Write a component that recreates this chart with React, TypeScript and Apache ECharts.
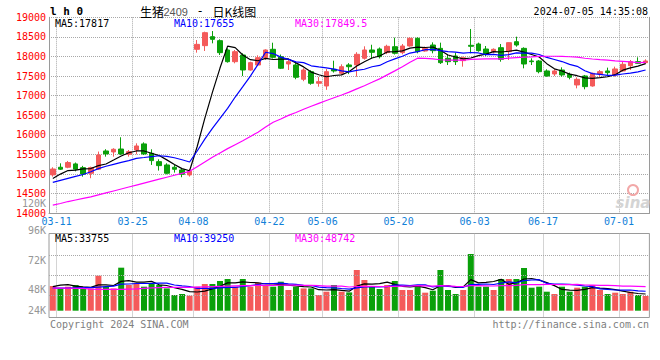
import React, { useEffect, useRef } from 'react';
import * as echarts from 'echarts';

// ---- categories (trading days) ----
const dates = [
  '03-08', '03-11', '03-12', '03-13', '03-14', '03-15', '03-18', '03-19', '03-20', '03-21',
  '03-22', '03-25', '03-26', '03-27', '03-28', '03-29', '04-01', '04-02', '04-03', '04-08',
  '04-09', '04-10', '04-11', '04-12', '04-15', '04-16', '04-17', '04-18', '04-19', '04-22',
  '04-23', '04-24', '04-25', '04-26', '04-29', '04-30', '05-06', '05-07', '05-08', '05-09',
  '05-10', '05-13', '05-14', '05-15', '05-16', '05-17', '05-20', '05-21', '05-22', '05-23',
  '05-24', '05-27', '05-28', '05-29', '05-30', '05-31', '06-03', '06-04', '06-05', '06-06',
  '06-07', '06-11', '06-12', '06-13', '06-14', '06-17', '06-18', '06-19', '06-20', '06-21',
  '06-24', '06-25', '06-26', '06-27', '06-28', '07-01', '07-02', '07-03', '07-04',
];
const xLabelDates = ['03-11', '03-25', '04-08', '04-22', '05-06', '05-20', '06-03', '06-17', '07-01'];

// ---- price series ----
const openP = [
  14980, 15175, 15175, 15260, 15165, 15020, 15125, 15590, 15565, 15640,
  15505, 15615, 15770, 15530, 15318, 15233, 15174, 15106, 14978, 18183,
  18277, 18506, 18404, 18166, 17868, 18038, 17656, 17783, 17970, 18184,
  17995, 17809, 17784, 17419, 17613, 17317, 17248, 17674, 17572, 17784,
  17784, 17955, 18166, 18192, 18100, 18250, 18098, 18268, 18464, 18140,
  18293, 18208, 17954, 18013, 17894, 18285, 18319, 18191, 18123, 18225,
  18123, 18378, 18208, 17886, 17886, 17631, 17554, 17656, 17546, 17274,
  17503, 17248, 17554, 17631, 17529, 17631, 17766, 17869, 17843,
];
const closeP = [
  15130, 15125, 15295, 15125, 15000, 15165, 15488, 15514, 15633, 15514,
  15573, 15718, 15514, 15344, 15216, 15021, 15123, 14995, 15072, 18310,
  18608, 18438, 18098, 17868, 18123, 17656, 17843, 17970, 18166, 17980,
  17700, 17868, 17470, 17656, 17317, 17358, 17613, 17631, 17740, 17740,
  18056, 18166, 18107, 17995, 18260, 18082, 18268, 18464, 18123, 18208,
  18149, 17843, 17868, 17868, 17970, 18260, 18149, 18056, 18183, 17928,
  18353, 18293, 17809, 17868, 17613, 17503, 17631, 17529, 17469, 17418,
  17231, 17571, 17614, 17588, 17682, 17801, 17869, 17826, 17886,
];
const lowP = [
  14935, 15105, 15150, 15070, 14935, 14895, 15105, 15445, 15445, 15488,
  15445, 15505, 15488, 15233, 15090, 14995, 15038, 14920, 14936, 18098,
  18141, 18336, 18038, 17843, 17826, 17503, 17639, 17758, 17911, 17950,
  17680, 17656, 17420, 17370, 17280, 17230, 17150, 17590, 17530, 17550,
  17485, 17920, 17950, 17950, 18060, 18050, 18056, 18251, 18081, 18123,
  18081, 17809, 17783, 17783, 17741, 18081, 18123, 18013, 18081, 17868,
  17911, 18251, 17698, 17783, 17571, 17486, 17503, 17486, 17418, 17188,
  17163, 17231, 17469, 17529, 17486, 17614, 17656, 17809, 17809,
];
const highP = [
  15175, 15275, 15335, 15295, 15210, 15190, 15575, 15635, 15660, 15940,
  15615, 15785, 15810, 15633, 15378, 15276, 15233, 15150, 15131, 18420,
  18633, 18650, 18438, 18208, 18166, 18081, 17868, 18030, 18183, 18352,
  18050, 17930, 17870, 17700, 17650, 17480, 17680, 17893, 17800, 17830,
  18110, 18260, 18300, 18230, 18300, 18480, 18319, 18489, 18489, 18251,
  18361, 18353, 18038, 18098, 17996, 18702, 18353, 18268, 18208, 18319,
  18360, 18506, 18234, 17954, 17911, 17673, 17673, 17724, 17588, 17469,
  17529, 17588, 17656, 17716, 17741, 17868, 17911, 17979, 17928,
];
const ma5 = [
  14890, 15000, 15090, 15100, 15135, 15142, 15215, 15258, 15360, 15463,
  15544, 15590, 15590, 15533, 15473, 15363, 15244, 15140, 15085, 15704,
  16422, 17085, 17705, 18264, 18227, 18037, 17918, 17892, 17952, 17923,
  17932, 17937, 17837, 17735, 17602, 17534, 17483, 17515, 17532, 17616,
  17756, 17867, 17962, 18013, 18117, 18122, 18142, 18214, 18239, 18229,
  18242, 18157, 18038, 17987, 17940, 17962, 18023, 18061, 18124, 18115,
  18134, 18163, 18113, 18050, 17987, 17817, 17685, 17629, 17549, 17510,
  17456, 17444, 17461, 17484, 17537, 17651, 17711, 17753, 17817,
];
const ma10 = [
  14790, 14840, 14890, 14940, 14990, 15060, 15140, 15200, 15250, 15299,
  15343, 15403, 15424, 15446, 15468, 15454, 15417, 15365, 15309, 15589,
  15892, 16164, 16423, 16675, 16966, 17229, 17501, 17799, 18108, 18075,
  17984, 17927, 17864, 17843, 17763, 17733, 17710, 17676, 17633, 17609,
  17645, 17675, 17738, 17772, 17867, 17939, 18005, 18088, 18126, 18173,
  18182, 18150, 18126, 18113, 18084, 18102, 18090, 18049, 18055, 18027,
  18048, 18093, 18087, 18087, 18051, 17976, 17924, 17871, 17800, 17749,
  17636, 17564, 17545, 17517, 17524, 17553, 17577, 17607, 17655,
];
const ma30 = [
  14210, 14250, 14300, 14340, 14380, 14420, 14470, 14520, 14570, 14620,
  14670, 14720, 14770, 14820, 14870, 14920, 14970, 15020, 15070, 15190,
  15310, 15430, 15540, 15650, 15750, 15850, 15960, 16070, 16200, 16321,
  16406, 16498, 16570, 16655, 16732, 16805, 16876, 16947, 17017, 17091,
  17174, 17255, 17342, 17430, 17532, 17634, 17738, 17854, 17956, 17952,
  17937, 17917, 17910, 17910, 17905, 17925, 17935, 17938, 17938, 17937,
  17958, 17972, 17984, 17991, 18001, 18006, 18006, 18003, 17994, 17983,
  17955, 17936, 17919, 17906, 17886, 17877, 17864, 17842, 17850,
];

// ---- volume series ----
const volume = [
  49900, 45000, 48500, 51900, 45000, 45000, 70700, 48500, 45000, 86900,
  51900, 55100, 48500, 53900, 51900, 45000, 31700, 33700, 30300, 48500,
  53900, 53900, 60000, 64000, 48500, 64000, 48500, 56600, 51900, 48500,
  58600, 41800, 48500, 45000, 45000, 31700, 38400, 51900, 38400, 37000,
  82200, 62000, 48500, 43800, 51900, 60000, 41800, 41800, 51900, 36400,
  40400, 82200, 41800, 33700, 41800, 114500, 48500, 48500, 41800, 64000,
  64000, 64000, 86300, 46500, 48500, 38400, 33700, 48500, 38400, 46500,
  48500, 51900, 41800, 33700, 36400, 33700, 38400, 31700, 29700,
];
const volMa5 = [
  48500, 51500, 52500, 49500, 48100, 47100, 52300, 52300, 50900, 59200,
  60600, 57600, 57600, 59200, 52300, 50900, 46300, 43200, 38600, 37800,
  39600, 44000, 49300, 56200, 56200, 58200, 57000, 56400, 53900, 53900,
  52700, 51500, 49900, 48500, 47900, 42400, 41800, 42400, 41000, 39400,
  49500, 54300, 53500, 54700, 57800, 53300, 49300, 47900, 49500, 46500,
  42400, 50500, 50500, 46900, 48100, 62800, 56200, 57400, 59000, 63400,
  53300, 56600, 64000, 65000, 61800, 56800, 50700, 43000, 41400, 41000,
  43000, 46700, 45500, 44400, 42400, 39600, 36800, 34700, 33755,
];
const volMa10 = [
  45500, 45500, 45700, 46100, 46500, 46500, 47500, 48500, 49500, 53700,
  53900, 54900, 54900, 55100, 55800, 55800, 51900, 50300, 48900, 45000,
  45200, 45200, 46300, 47300, 47100, 48900, 50500, 52900, 54900, 54900,
  55600, 54300, 53100, 51100, 50900, 47700, 46700, 46100, 44800, 43600,
  46100, 48100, 48100, 47900, 48700, 51500, 51700, 50700, 52100, 52100,
  47900, 49900, 49300, 48300, 47300, 52700, 53300, 53900, 52900, 55800,
  58200, 56400, 60800, 62000, 62600, 55100, 53500, 53500, 53300, 51500,
  49900, 48700, 44200, 43000, 41800, 41400, 41800, 40200, 39250,
];
const volMa30 = [
  45500, 45500, 45500, 45000, 45000, 43500, 43000, 43000, 43000, 43000,
  43500, 44000, 45000, 46000, 46500, 47000, 47000, 47000, 47000, 47500,
  48000, 48500, 49000, 49500, 50000, 50500, 50800, 51000, 51200, 51300,
  51500, 51500, 51500, 51100, 51100, 50700, 49700, 49700, 49500, 47900,
  48900, 49100, 49100, 48900, 48900, 49300, 49700, 49900, 50700, 50300,
  49700, 50700, 50100, 49100, 48900, 50500, 50500, 50300, 49900, 50500,
  50700, 51300, 52700, 52700, 52700, 53100, 52900, 52700, 52700, 53100,
  51900, 51700, 51300, 51100, 50500, 49700, 49500, 49300, 48742,
];

// ---- axis / header texts ----
const priceMin = 14000;
const priceMax = 19000;
const priceStep = 500;
const volTickLabels = ['120K', '96K', '72K', '48K', '24K'];
const mainLegend = ['MA5:17817', 'MA10:17655', 'MA30:17849.5'];
const volLegend = ['MA5:33755', 'MA10:39250', 'MA30:48742'];
const titleParts = ['生猪', '2409', '-', '日K线图'];
const timeStamp = '2024-07-05 14:35:08';
const footerLeft = 'Copyright 2024 SINA.COM';
const footerRight = 'http://finance.sina.com.cn';

export default function App() {
  const ref = useRef<HTMLDivElement>(null);

  useEffect(() => {
    if (!ref.current) return;
    const chart = echarts.init(ref.current, null, { renderer: 'svg' });

    const MONO = '"DejaVu Sans Mono", "Liberation Mono", monospace';
    const CJK = '"Noto Sans CJK SC", sans-serif';
    const RED = '#f45a5a';
    const GREEN = '#0aa00a';
    const GRID_C = '#a8a8a8';
    const AXIS_C = '#9a9a9a';
    const MA_COLORS = ['#000000', '#0000ff', '#ff00ff'];

    // layout
    const LEFT = 49;
    const PLOT_W = 600.4;
    const MAIN_TOP = 17.3;
    const MAIN_H = 196;
    const VOL_TOP = 233.5;
    const VOL_H = 84;
    const VOL_BASE_Y = 310.7;
    const VOL_PER_PX = 2020;
    const volMin = -(VOL_TOP + VOL_H - VOL_BASE_Y) * VOL_PER_PX;
    const volMax = (VOL_BASE_Y - VOL_TOP) * VOL_PER_PX;
    const volGridLines = [255.5, 275.5, 295.5].map((y) => (VOL_BASE_Y - y) * VOL_PER_PX);

    const isLabel = (_i: number, v: string) => xLabelDates.includes(v);

    const kData = dates.map((_, i) => [openP[i], closeP[i], lowP[i], highP[i]]);
    const volData = volume.map((v, i) => ({
      value: v,
      itemStyle: { color: closeP[i] >= openP[i] ? RED : GREEN },
    }));

    const lineSeries = (data: number[], color: string, gi: number) => ({
      type: 'line',
      data,
      xAxisIndex: gi,
      yAxisIndex: gi === 0 ? 0 : 2,
      showSymbol: false,
      symbol: 'none',
      smooth: false,
      silent: true,
      z: 5,
      lineStyle: { color, width: 1.2 },
    });

    const txt = (
      text: string,
      x: number,
      y: number,
      fill: string,
      font: string,
      align: string = 'left',
    ) => ({
      type: 'text',
      x,
      y,
      z: 100,
      silent: true,
      style: {
        text,
        fill,
        font,
        align,
        verticalAlign: 'middle',
        textAlign: align,
        textVerticalAlign: 'middle',
      },
    });

    const legendX = [55, 174, 295];
    const volLabelY = [203.5, 230.7, 260.7, 289.3, 310];

    const graphics: any[] = [
      txt('l h 0', 50, 11.5, '#000', `bold 11px ${MONO}`),
      txt(titleParts[0], 140, 11.5, '#000', `12px ${CJK}`),
      txt(titleParts[1], 163.5, 11.5, '#555', '11px "Liberation Sans", Arial, sans-serif'),
      txt(titleParts[2], 196.5, 11, '#000', `12px ${MONO}`),
      txt(titleParts[3], 212.5, 11.5, '#000', `12px ${CJK}`),
      txt(timeStamp, 648, 11.5, '#000', `10px ${MONO}`, 'right'),
      txt(footerLeft, 50, 324, '#808080', `10px ${MONO}`),
      txt(footerRight, 649, 324, '#808080', `10px ${MONO}`, 'right'),
      // sina watermark
      {
        type: 'circle',
        z: 1,
        silent: true,
        shape: { cx: 633, cy: 190, r: 5 },
        style: { fill: 'none', stroke: '#f2a8a8', lineWidth: 2 },
      },
      txt('sina', 633, 203, '#d4d4d4', `italic bold 15px "DejaVu Sans", sans-serif`, 'center'),
    ];
    mainLegend.forEach((t, i) => graphics.push(txt(t, legendX[i], 23.3, MA_COLORS[i], `10px ${MONO}`)));
    volLegend.forEach((t, i) => graphics.push(txt(t, legendX[i], 238.5, MA_COLORS[i], `10px ${MONO}`)));
    volTickLabels.forEach((t, i) => graphics.push(txt(t, 46, volLabelY[i], '#969696', `10px ${MONO}`, 'right')));

    const option: any = {
      animation: false,
      backgroundColor: '#ffffff',
      grid: [
        { left: LEFT, top: MAIN_TOP, width: PLOT_W, height: MAIN_H, show: false },
        {
          left: LEFT,
          top: VOL_TOP,
          width: PLOT_W,
          height: VOL_H,
          show: true,
          borderColor: AXIS_C,
          borderWidth: 1,
          backgroundColor: 'transparent',
        },
      ],
      xAxis: [
        {
          type: 'category',
          gridIndex: 0,
          data: dates,
          boundaryGap: true,
          axisLine: { show: true, lineStyle: { color: AXIS_C, width: 1 } },
          axisTick: { show: false },
          axisLabel: {
            interval: isLabel,
            color: '#1080d8',
            fontFamily: MONO,
            fontSize: 10,
            margin: 3,
            padding: [0, 7.6, 0, 0],
          },
          splitLine: {
            show: true,
            interval: isLabel,
            lineStyle: { color: GRID_C, type: 'dotted', width: 1 },
          },
        },
        {
          type: 'category',
          gridIndex: 1,
          data: dates,
          boundaryGap: true,
          axisLine: { show: false },
          axisTick: { show: false },
          axisLabel: { show: false },
          splitLine: {
            show: true,
            interval: isLabel,
            lineStyle: { color: GRID_C, type: 'dotted', width: 1 },
          },
        },
      ],
      yAxis: [
        {
          type: 'value',
          gridIndex: 0,
          min: priceMin,
          max: priceMax,
          interval: priceStep,
          axisLine: { show: true, lineStyle: { color: AXIS_C, width: 1 } },
          axisTick: { show: false },
          axisLabel: {
            color: '#ff0000',
            fontFamily: MONO,
            fontSize: 10,
            margin: 3,
            formatter: (v: number) => String(v),
          },
          splitLine: { show: true, lineStyle: { color: GRID_C, type: 'dotted', width: 1 } },
        },
        {
          type: 'value',
          gridIndex: 0,
          position: 'right',
          min: priceMin,
          max: priceMax,
          interval: priceStep,
          axisLine: { show: true, lineStyle: { color: AXIS_C, width: 1 } },
          axisTick: { show: false },
          axisLabel: { show: false },
          splitLine: { show: false },
        },
        {
          type: 'value',
          gridIndex: 1,
          min: volMin,
          max: volMax,
          axisLine: { show: false },
          axisTick: { show: false },
          axisLabel: { show: false },
          splitLine: { show: false },
        },
      ],
      series: [
        {
          type: 'candlestick',
          xAxisIndex: 0,
          yAxisIndex: 0,
          data: kData,
          barWidth: 5,
          z: 2,
          silent: true,
          itemStyle: {
            color: RED,
            color0: GREEN,
            borderColor: RED,
            borderColor0: GREEN,
            borderWidth: 1,
          },
        },
        lineSeries(ma5, MA_COLORS[0], 0),
        lineSeries(ma10, MA_COLORS[1], 0),
        lineSeries(ma30, MA_COLORS[2], 0),
        {
          type: 'bar',
          xAxisIndex: 1,
          yAxisIndex: 2,
          data: volData,
          barWidth: 6,
          z: 2,
          silent: true,
          markLine: {
            silent: true,
            symbol: ['none', 'none'],
            label: { show: false },
            lineStyle: { color: GRID_C, type: 'dotted', width: 1 },
            data: volGridLines.map((v) => ({ yAxis: v })),
          },
        },
        lineSeries(volMa5, MA_COLORS[0], 1),
        lineSeries(volMa10, MA_COLORS[1], 1),
        lineSeries(volMa30, MA_COLORS[2], 1),
      ],
      graphic: graphics,
    };

    chart.setOption(option);
    return () => {
      chart.dispose();
    };
  }, []);

  return (
    <div
      ref={ref}
      style={{ position: 'absolute', left: 0, top: 0, width: 660, height: 360, background: '#ffffff' }}
    />
  );
}
